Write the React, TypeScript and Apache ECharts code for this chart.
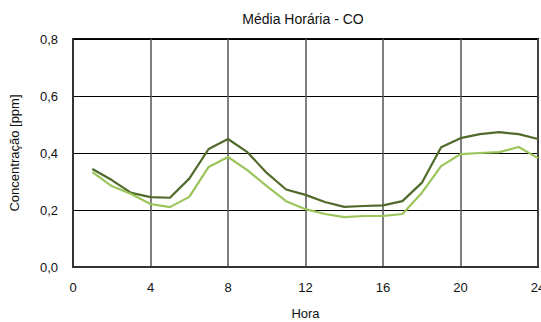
import React, { useEffect, useRef } from "react";
import * as echarts from "echarts";

const hours = [1, 2, 3, 4, 5, 6, 7, 8, 9, 10, 11, 12, 13, 14, 15, 16, 17, 18, 19, 20, 21, 22, 23, 24];
const seriesDark = [0.344, 0.305, 0.26, 0.245, 0.243, 0.31, 0.414, 0.449, 0.403, 0.33, 0.272, 0.253, 0.228, 0.211, 0.214, 0.216, 0.231, 0.295, 0.42, 0.452, 0.466, 0.473, 0.466, 0.449];
const seriesLight = [0.333, 0.284, 0.256, 0.221, 0.21, 0.246, 0.351, 0.386, 0.34, 0.284, 0.231, 0.203, 0.186, 0.175, 0.179, 0.179, 0.186, 0.26, 0.354, 0.396, 0.4, 0.403, 0.421, 0.382];

const FONT = "'Liberation Sans', Arial, sans-serif";

export default function App() {
  const ref = useRef<HTMLDivElement>(null);
  useEffect(() => {
    if (!ref.current) return;
    const chart = echarts.init(ref.current, null, { renderer: "svg" });
    chart.setOption({
      animation: false,
      backgroundColor: "#ffffff",
      title: {
        text: "Média Horária - CO",
        left: 298,
        textAlign: "center",
        top: 7,
        textStyle: { fontFamily: FONT, fontSize: 14, fontWeight: "normal", color: "#111" },
      },
      grid: {
        left: 73,
        right: 3,
        top: 39,
        bottom: 55,
        containLabel: false,
        outerBoundsMode: "none",
        show: true,
        borderColor: "#111",
        borderWidth: 2,
        backgroundColor: "transparent",
      },
      xAxis: {
        type: "value",
        min: 0,
        max: 24,
        interval: 4,
        name: "Hora",
        nameLocation: "middle",
        nameGap: 40,
        nameTextStyle: { fontFamily: FONT, fontSize: 13, color: "#111" },
        axisLine: { show: true, lineStyle: { color: "#333", width: 2 } },
        axisTick: { show: false },
        axisLabel: { fontFamily: FONT, fontSize: 13, color: "#111", margin: 14, hideOverlap: false },
        splitLine: { show: true, lineStyle: { color: "#555", width: 1.5 } },
      },
      yAxis: {
        type: "value",
        min: 0,
        max: 0.8,
        interval: 0.2,
        name: "Concentração [ppm]",
        nameLocation: "middle",
        nameGap: 52,
        nameTextStyle: { fontFamily: FONT, fontSize: 13, color: "#111" },
        axisLine: { show: true, lineStyle: { color: "#333", width: 2 } },
        axisTick: { show: false },
        axisLabel: {
          fontFamily: FONT,
          fontSize: 13,
          color: "#111",
          margin: 15,
          formatter: (v: number) => v.toFixed(1).replace(".", ","),
        },
        splitLine: { show: true, lineStyle: { color: "#000", width: 1 } },
      },
      series: [
        {
          type: "line",
          data: hours.map((h, i) => [h, seriesDark[i]]),
          symbol: "none",
          lineStyle: { color: "#4f6a2a", width: 2.2 },
          z: 3,
        },
        {
          type: "line",
          data: hours.map((h, i) => [h, seriesLight[i]]),
          symbol: "none",
          lineStyle: { color: "#9bc55a", width: 2.2 },
          z: 4,
        },
      ],
    });
    return () => chart.dispose();
  }, []);
  return (
    <div
      ref={ref}
      style={{ position: "fixed", left: 0, top: 0, width: 541, height: 322 }}
    />
  );
}
